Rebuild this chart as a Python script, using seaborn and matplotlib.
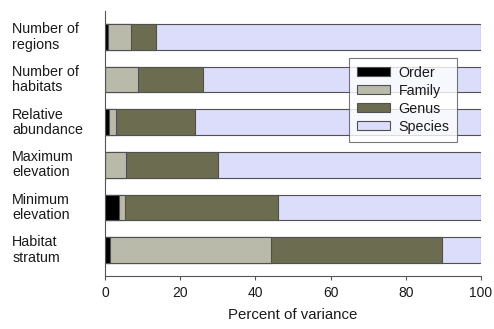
import matplotlib
matplotlib.use("Agg")
import matplotlib.pyplot as plt
from matplotlib.patches import Patch
import seaborn as sns
import pandas as pd
import numpy as np

categories = ["Number of\nregions", "Number of\nhabitats", "Relative\nabundance",
              "Maximum\nelevation", "Minimum\nelevation", "Habitat\nstratum"]
order = [0.7, 0.0, 1.15, 0.0, 3.6, 1.2]
family = [6.2, 8.7, 1.75, 5.6, 1.6, 42.9]
genus = [6.6, 17.3, 21.1, 24.4, 40.7, 45.6]
species = [86.5, 74.0, 76.0, 70.0, 54.1, 10.3]

levels = ["Order", "Family", "Genus", "Species"]
colors = {"Order": "#000000", "Family": "#b9baa9", "Genus": "#6c6c50", "Species": "#dcdcfb"}

sns.set_style("white")
plt.rcParams['font.family'] = ['Liberation Sans', 'DejaVu Sans']
plt.rcParams['text.color'] = '#1a1a1a'
plt.rcParams['xtick.color'] = '#1a1a1a'
plt.rcParams['axes.labelcolor'] = '#1a1a1a'

fig = plt.figure(figsize=(4.94, 3.29), dpi=100)
ax = fig.add_axes([105/494, 1-276/329, 376/494, 265/329])

vals = np.array([order, family, genus, species])
cum = np.cumsum(vals, axis=0)
df = pd.DataFrame({"cat": categories})
for i in range(3, -1, -1):
    df["v"] = cum[i]
    sns.barplot(data=df, y="cat", x="v", orient="h", color=colors[levels[i]],
                edgecolor="#505050", linewidth=0.8, width=0.6, saturation=1, ax=ax)

ax.set_xlim(0, 100)
ax.set_ylim(5.61, -0.61)
ax.set_xticks([0, 20, 40, 60, 80, 100])
ax.tick_params(axis='x', labelsize=10, length=3, width=0.8, color="#555555", pad=4, direction='out', bottom=True)
ax.set_yticks(range(len(categories)))
ax.set_yticklabels([])
ax.tick_params(axis='y', length=0)
ax.set_ylabel("")
ax.set_xlabel("Percent of variance", fontsize=10.8, labelpad=6)
for s in ["top", "right"]:
    ax.spines[s].set_visible(False)
for s in ["left", "bottom"]:
    ax.spines[s].set_color("#555555")
    ax.spines[s].set_linewidth(0.8)

for i, c in enumerate(categories):
    ax.text(-0.247, i, c, transform=ax.get_yaxis_transform(), ha='left', va='center',
            fontsize=10.3, linespacing=1.1)

handles = [Patch(facecolor=colors[l], edgecolor="#505050", linewidth=0.8, label=l) for l in levels]
leg = ax.legend(handles=handles, loc="upper left", bbox_to_anchor=(0.649, 0.823),
                fontsize=10.3, frameon=True, fancybox=False, edgecolor="#555555",
                handlelength=2.3, handleheight=0.55, handletextpad=0.6, labelspacing=0.28,
                borderpad=0.55, borderaxespad=0)
leg.get_frame().set_linewidth(0.8)

fig.savefig("out.png", dpi=100)
